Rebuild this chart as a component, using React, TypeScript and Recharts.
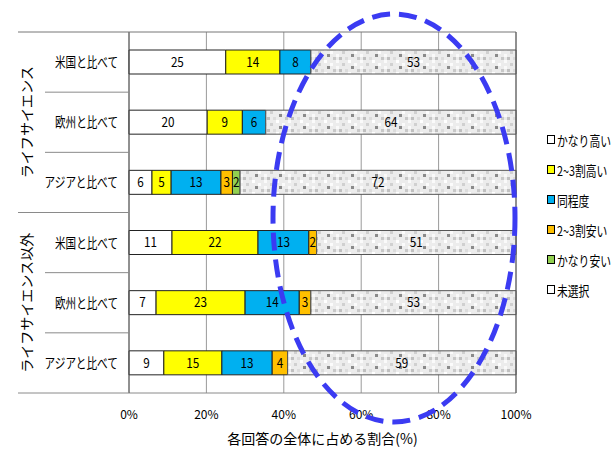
import React from 'react';
import { BarChart, Bar, XAxis, YAxis, CartesianGrid, LabelList } from 'recharts';

const rowKeys = ['ls-us', 'ls-eu', 'ls-asia', 'other-us', 'other-eu', 'other-asia'];
const rowLabels = ['米国と比べて', '欧州と比べて', 'アジアと比べて', '米国と比べて', '欧州と比べて', 'アジアと比べて'];
const groupLabels = ['ライフサイエンス', 'ライフサイエンス以外'];

const veryHigh = [25, 20, 6, 11, 7, 9];
const high = [14, 9, 5, 22, 23, 15];
const same = [8, 6, 13, 13, 14, 13];
const low = [0, 0, 3, 2, 3, 4];
const veryLow = [0, 0, 2, 0, 0, 0];
const noAnswer = [53, 64, 72, 51, 53, 59];

const xTicks = [0, 0.2, 0.4, 0.6, 0.8, 1];

const series = [
  { key: 'veryHigh', name: 'かなり高い', fill: '#FFFFFF' },
  { key: 'high', name: '2~3割高い', fill: '#FFFF00' },
  { key: 'same', name: '同程度', fill: '#00B0F0' },
  { key: 'low', name: '2~3割安い', fill: '#FFC000' },
  { key: 'veryLow', name: 'かなり安い', fill: '#92D050' },
  { key: 'noAnswer', name: '未選択', fill: 'url(#noise)' },
];

const data = rowKeys.map((key, i) => ({
  key,
  veryHigh: veryHigh[i],
  high: high[i],
  same: same[i],
  low: low[i],
  veryLow: veryLow[i],
  noAnswer: noAnswer[i],
}));

const W = 614;
const H = 449;
const PLOT_LEFT = 129;
const PLOT_RIGHT = 516;
const PLOT_TOP = 32;
const PLOT_BOTTOM = 393;
const BAND = (PLOT_BOTTOM - PLOT_TOP) / rowKeys.length;

const CatTick = (props: any) => {
  const { x, y, payload } = props;
  const i = rowKeys.indexOf(payload.value);
  const label = rowLabels[i] ?? '';
  return (
    <text x={x} y={y} dy="0.36em" textAnchor="end" fontSize={14} fill="#000"
      textLength={label.length * 10.5} lengthAdjust="spacingAndGlyphs">
      {label}
    </text>
  );
};

const SegLabel = (props: any) => {
  const { x, y, width, height, value } = props;
  if (!value) return null;
  return (
    <text x={x + width / 2} y={y + height / 2} dy="0.36em" textAnchor="middle" fontSize={13} fill="#000"
      textLength={String(value).length * 6.5} lengthAdjust="spacingAndGlyphs">
      {value}
    </text>
  );
};

// legend kept outside the chart so it doesn't eat plot space
const LegendBox = () => (
  <div style={{ position: 'absolute', left: 547, top: 131, display: 'flex', flexDirection: 'column', gap: 13 }}>
    {series.map(s => (
      <div key={s.key} style={{ display: 'flex', alignItems: 'center', height: 17, whiteSpace: 'nowrap' }}>
        <span style={{
          display: 'inline-block', flexShrink: 0, width: 6, height: 7, border: '1px solid #000', marginRight: 2,
          background: s.key === 'noAnswer' ? '#fff' : s.fill,
        }} />
        <span style={{ fontSize: 13.5, display: 'inline-block', transform: 'scaleX(0.8)', transformOrigin: 'left center' }}>
          {s.name}
        </span>
      </div>
    ))}
  </div>
);

export default function App() {
  const seps = [1, 2, 3, 4, 5].map(k => PLOT_TOP + BAND * k);
  return (
    <div style={{ position: 'absolute', left: 0, top: 0, width: W, height: H, background: '#fff', fontFamily: '"Noto Sans CJK JP", "Noto Sans", sans-serif', overflow: 'hidden' }}>
      <svg width={0} height={0} style={{ position: 'absolute' }}>
        <defs>
          <pattern id="noise" width={24} height={12} patternUnits="userSpaceOnUse">
            <rect width={24} height={12} fill="#ececec" />
            <rect x={0} y={0} width={3} height={3} fill="#fafafa" />
            <rect x={6} y={3} width={3} height={3} fill="#d0d0d0" />
            <rect x={12} y={0} width={3} height={3} fill="#ffffff" />
            <rect x={15} y={6} width={3} height={3} fill="#8a8a8a" />
            <rect x={3} y={9} width={3} height={3} fill="#c0c0c0" />
            <rect x={18} y={3} width={3} height={3} fill="#fbfbfb" />
            <rect x={9} y={9} width={3} height={3} fill="#dcdcdc" />
            <rect x={21} y={9} width={3} height={3} fill="#c8c8c8" />
            <rect x={0} y={6} width={3} height={3} fill="#f9f9f9" />
          </pattern>
        </defs>
      </svg>
      <BarChart
        width={W}
        height={H}
        data={data}
        layout="vertical"
        stackOffset="expand"
        barSize={24}
        margin={{ top: PLOT_TOP, right: W - PLOT_RIGHT, bottom: H - PLOT_BOTTOM - 30, left: 0 }}
      >
        <CartesianGrid horizontal={false} vertical stroke="#9a9a9a" />
        <XAxis
          type="number"
          domain={[0, 1]}
          ticks={xTicks}
          tickFormatter={(v: number) => `${Math.round(v * 100)}%`}
          tick={{ fontSize: 12, fill: '#000' }}
          tickSize={0}
          tickMargin={17}
          height={30}
          axisLine={{ stroke: '#8a8a8a' }}
          label={{ value: '各回答の全体に占める割合(%)', position: 'bottom', offset: 11, fontSize: 14, fill: '#000' }}
        />
        <YAxis
          type="category"
          dataKey="key"
          width={PLOT_LEFT}
          tick={<CatTick />}
          tickSize={0}
          tickMargin={11}
          axisLine={{ stroke: '#555' }}
        />
        {series.map(s => (
          <Bar key={s.key} dataKey={s.key} name={s.name} stackId="a" fill={s.fill}
            stroke={s.key === 'noAnswer' ? '#555' : '#222'} strokeWidth={1} isAnimationActive={false}>
            <LabelList dataKey={s.key} content={<SegLabel />} />
          </Bar>
        ))}
      </BarChart>
      <LegendBox />
      <svg width={W} height={H} style={{ position: 'absolute', left: 0, top: 0, pointerEvents: 'none' }}>
        <line x1={18} y1={PLOT_TOP} x2={PLOT_RIGHT} y2={PLOT_TOP} stroke="#777" />
        <line x1={PLOT_RIGHT} y1={PLOT_TOP} x2={PLOT_RIGHT} y2={PLOT_BOTTOM} stroke="#555" />
        <line x1={18} y1={PLOT_BOTTOM} x2={PLOT_LEFT} y2={PLOT_BOTTOM} stroke="#8a8a8a" />
        {seps.map((y, k) => (
          <line key={k} x1={k === 2 ? 18 : 45} y1={y} x2={PLOT_LEFT} y2={y} stroke="#8a8a8a" />
        ))}
        {groupLabels.map((g, gi) => {
          const cy = PLOT_TOP + BAND * (gi * 3 + 1.5);
          return (
            <text key={g} x={27} y={cy} transform={`rotate(-90 27 ${cy})`} dy="0.36em" textAnchor="middle"
              fontSize={14} fill="#000" textLength={g.length * 14} lengthAdjust="spacingAndGlyphs">
              {g}
            </text>
          );
        })}
        <ellipse cx={394} cy={218} rx={121} ry={204} fill="none" stroke="#3b3bf2" strokeWidth={5} strokeDasharray="18 9" />
      </svg>
    </div>
  );
}
